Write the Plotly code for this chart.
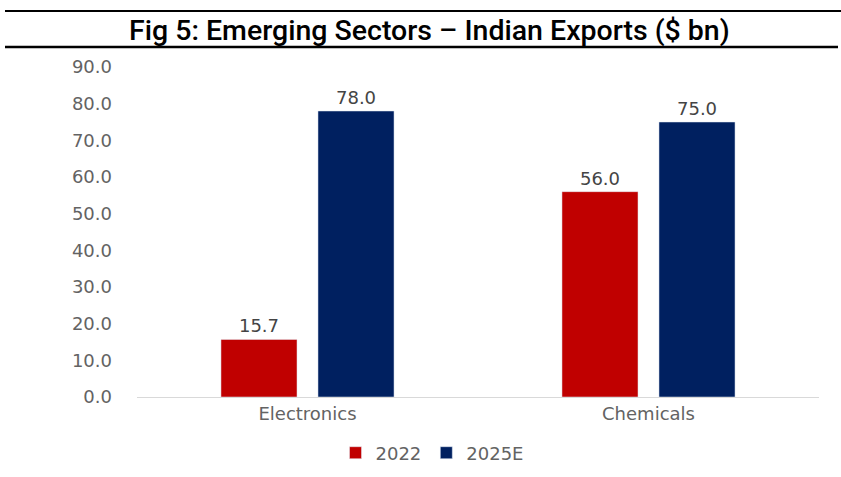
import plotly.graph_objects as go

categories = ["Electronics", "Chemicals"]
series_names = ["2022", "2025E"]
values_2022 = [15.7, 56.0]
values_2025 = [78.0, 75.0]
y_ticks = [0, 10, 20, 30, 40, 50, 60, 70, 80, 90]
title_text = "Fig 5: Emerging Sectors – Indian Exports ($ bn)"

colors = ["#C00000", "#002060"]
W, H = 841, 477
L, R, T, B = 137, 22, 67, 80
pw, ph = W - L - R, H - T - B
FONT = "DejaVu Sans"
GREY = "#636363"

def px_x(p):
    return (p - L) / pw

def px_y(p):
    return (H - B - p) / ph

fig = go.Figure()
for name, vals, c in zip(series_names, [values_2022, values_2025], colors):
    fig.add_trace(go.Bar(
        x=categories, y=vals, name=name, marker_color=c,
        text=[f"{v:.1f}" for v in vals], textposition="outside",
        textfont=dict(size=18, color="#444444", family=FONT),
        cliponaxis=False,
    ))

fig.update_layout(
    width=W, height=H,
    margin=dict(l=L, r=R, t=T, b=B, autoexpand=False),
    paper_bgcolor="white", plot_bgcolor="white",
    barmode="group", bargap=0.431, bargroupgap=0.216,
    showlegend=True,
    legend=dict(orientation="h", x=px_x(432), xanchor="center", y=px_y(453), yanchor="middle",
                font=dict(size=18, color=GREY, family=FONT),
                itemwidth=30, traceorder="normal"),
    annotations=[dict(text=title_text, x=px_x(429), y=px_y(31), xref="paper", yref="paper",
                      showarrow=False, xanchor="center", yanchor="middle",
                      font=dict(size=28.5, color="#000000", family="Roboto", weight=500))],
    shapes=[
        dict(type="line", xref="paper", yref="paper", x0=px_x(5), x1=px_x(841),
             y0=px_y(11), y1=px_y(11), line=dict(color="black", width=2)),
        dict(type="line", xref="paper", yref="paper", x0=px_x(5), x1=px_x(838),
             y0=px_y(47), y1=px_y(47), line=dict(color="black", width=2.5)),
    ],
)
fig.update_xaxes(showgrid=False, showline=True, linecolor="#D9D9D9", linewidth=1,
                 tickfont=dict(size=18, color=GREY, family=FONT), ticks="")
fig.update_yaxes(range=[0, 90], tickvals=y_ticks, ticktext=[f"{v:.1f}" for v in y_ticks],
                 showgrid=False, zeroline=False, showline=False, ticks="",
                 tickfont=dict(size=18, color=GREY, family=FONT),
                 ticklabelstandoff=24)

fig.write_html("out.html")
